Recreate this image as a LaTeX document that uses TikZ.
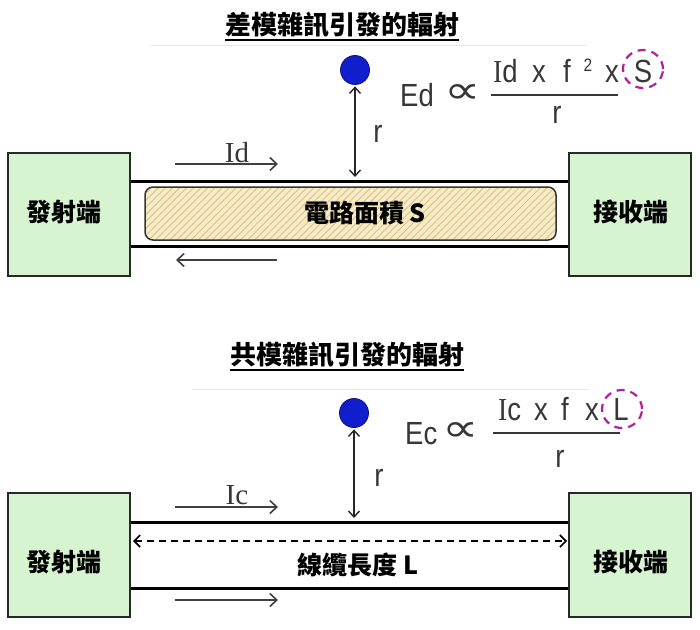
\documentclass[tikz,border=0pt]{standalone}
\usepackage{fontspec}
\setmainfont{Liberation Sans}
\newfontfamily\cjk{Noto Sans CJK TC}
\newfontfamily\serifI{Liberation Serif}
\newfontfamily\djv{DejaVu Sans}
\usetikzlibrary{arrows.meta,patterns.meta,shapes.geometric,calc}
\definecolor{boxgreen}{RGB}{214,244,208}
\definecolor{boxedge}{RGB}{40,40,40}
\definecolor{hatchbg}{RGB}{247,236,200}
\definecolor{hatchln}{RGB}{222,196,140}
\definecolor{dotblue}{RGB}{16,30,205}
\definecolor{dashmag}{RGB}{176,32,160}
\definecolor{formgray}{RGB}{55,55,55}
\definecolor{faint}{RGB}{232,232,232}
\newcommand{\cnd}[1]{\scalebox{0.86}[1]{#1}}
\begin{document}
\begin{tikzpicture}[x=1pt,y=-1pt,
  greenbox/.style={draw=boxedge,line width=2pt,fill=boxgreen,inner sep=0pt},
  boxlabel/.style={font=\cjk\bfseries\fontsize{25}{28}\selectfont,inner sep=0pt},
  titletext/.style={font=\cjk\bfseries\fontsize{26}{30}\selectfont,inner sep=0pt},
  wireline/.style={line width=3pt,black},
  curarrow/.style={line width=2pt,draw=black!75,-{Straight Barb[length=7pt,width=13pt,line width=1.6pt]}},
  rarrow/.style={line width=1.5pt,draw=black!85,{Straight Barb[length=6pt,width=11pt,line width=1.4pt]}-{Straight Barb[length=6pt,width=11pt,line width=1.4pt]}},
  formtext/.style={font=\fontsize{32}{38}\selectfont,text=formgray,inner sep=0pt},
  propsign/.style={font=\djv\fontsize{30}{36}\selectfont,text=formgray,inner sep=0pt},
  curlabel/.style={font=\serifI\fontsize{29}{34}\selectfont,text=formgray,inner sep=0pt},
  fracline/.style={line width=2pt,draw=formgray},
  magcircle/.style={ellipse,draw=dashmag,line width=2.2pt,dash pattern=on 8pt off 6pt,minimum width=40pt,minimum height=38pt,inner sep=0pt},
  bluedot/.style={circle,fill=dotblue,draw=dotblue!60!black,line width=0.8pt,minimum size=29pt,inner sep=0pt},
  faintline/.style={line width=1pt,draw=faint}
]
\useasboundingbox (0,0) rectangle (700,629);
\fill[white] (0,0) rectangle (700,629);

% ================= TOP: differential mode =================
\node[titletext] (t1) at (342,25) {差模雜訊引發的輻射};
\draw[line width=2pt] ([yshift=-2pt]t1.south west) -- ([yshift=-2pt]t1.south east);
\coordinate (fa1) at (150,45); \coordinate (fb1) at (587,45);
\draw[faintline] (fa1) -- (fb1);

\node[greenbox,minimum width=122pt,minimum height=123pt] (tx1) at (69,214.5) {};
\node[boxlabel] (tx1l) at (64,212) {發射端};
\node[greenbox,minimum width=122pt,minimum height=123pt] (rx1) at (630,214.5) {};
\node[boxlabel] (rx1l) at (631,212) {接收端};

\coordinate (w1a) at (131,181); \coordinate (w1b) at (568,181);
\coordinate (w2a) at (131,246); \coordinate (w2b) at (568,246);
\draw[wireline] (w1a) -- (w1b);
\draw[wireline] (w2a) -- (w2b);

\node[rounded corners=8pt,draw=black!80,line width=1.5pt,
  preaction={fill=hatchbg},
  pattern={Lines[angle=45,distance=5pt,line width=1pt]},pattern color=hatchln,
  minimum width=411pt,minimum height=53pt,inner sep=0pt] (area) at (350.5,213.5) {};
\node[boxlabel] (areal) at (365,213) {電路面積 S};

\coordinate (i1a) at (175,164); \coordinate (i1b) at (278,164);
\draw[curarrow] (i1a) -- (i1b);
\node[curlabel,anchor=base] (id1) at (237,162) {Id};
\coordinate (i2a) at (277,260); \coordinate (i2b) at (176,260);
\draw[curarrow] (i2a) -- (i2b);

\node[bluedot] (dot1) at (355,70) {};
\coordinate (r1b) at (355,177);
\draw[rarrow] ([yshift=-1.5pt]dot1.south) -- (r1b);
\node[formtext,anchor=base] (r1) at (378,142) {\cnd{r}};

\node[formtext,anchor=base west] (ed) at (400,106) {\cnd{Ed}};
\node[propsign,anchor=center] (prop1) at (463,94) {\scalebox{1.7}[1.3]{∝}};
\coordinate (fl1a) at (491,95); \coordinate (fl1b) at (618,95);
\draw[fracline] (fl1a) -- (fl1b);
\node[formtext,anchor=base west] (n1a) at (493,82) {\cnd{{\serifI I}d}};
\node[formtext,anchor=base] (n1b) at (539,82) {\cnd{x}};
\node[formtext,anchor=base] (n1c) at (567,82) {\cnd{f}};
\node[formtext,anchor=base,font=\fontsize{18}{20}\selectfont] (n1d) at (588,71) {\cnd{2}};
\node[formtext,anchor=base] (n1e) at (612,82) {\cnd{x}};
\node[formtext,anchor=base] (n1f) at (643,82) {\cnd{S}};
\node[magcircle] (c1) at (643,69) {};
\node[formtext,anchor=base] (d1) at (557,123) {\cnd{r}};

% ================= BOTTOM: common mode =================
\node[titletext] (t2) at (347,355) {共模雜訊引發的輻射};
\draw[line width=2pt] ([yshift=-2pt]t2.south west) -- ([yshift=-2pt]t2.south east);
\coordinate (fa2) at (192,389); \coordinate (fb2) at (589,389);
\draw[faintline] (fa2) -- (fb2);

\node[greenbox,minimum width=122pt,minimum height=124pt] (tx2) at (69,555) {};
\node[boxlabel] (tx2l) at (64,562) {發射端};
\node[greenbox,minimum width=122pt,minimum height=124pt] (rx2) at (630,555) {};
\node[boxlabel] (rx2l) at (631,562) {接收端};

\coordinate (w3a) at (131,522); \coordinate (w3b) at (568,522);
\coordinate (w4a) at (131,588); \coordinate (w4b) at (568,588);
\draw[wireline] (w3a) -- (w3b);
\draw[wireline] (w4a) -- (w4b);

\coordinate (la) at (133,541); \coordinate (lb) at (567,541);
\draw[line width=2pt,dash pattern=on 7pt off 5pt,
  {Straight Barb[length=6pt,width=12pt,line width=1.6pt]}-{Straight Barb[length=6pt,width=12pt,line width=1.6pt]}] (la) -- (lb);
\node[boxlabel] (lenl) at (358,565) {線纜長度 L};

\coordinate (i3a) at (175,507); \coordinate (i3b) at (278,507);
\draw[curarrow] (i3a) -- (i3b);
\node[curlabel,anchor=base] (ic1) at (237,504) {Ic};
\coordinate (i4a) at (175,600); \coordinate (i4b) at (278,600);
\draw[curarrow] (i4a) -- (i4b);

\node[bluedot] (dot2) at (354,413) {};
\coordinate (r2b) at (354,518);
\draw[rarrow] ([yshift=-1.5pt]dot2.south) -- (r2b);
\node[formtext,anchor=base] (r2) at (379,486) {\cnd{r}};

\node[formtext,anchor=base west] (ec) at (405,444) {\cnd{Ec}};
\node[propsign,anchor=center] (prop2) at (461,432) {\scalebox{1.7}[1.3]{∝}};
\coordinate (fl2a) at (493,433); \coordinate (fl2b) at (620,433);
\draw[fracline] (fl2a) -- (fl2b);
\node[formtext,anchor=base west] (n2a) at (498,420) {\cnd{{\serifI I}c}};
\node[formtext,anchor=base] (n2b) at (541,420) {\cnd{x}};
\node[formtext,anchor=base] (n2c) at (565,420) {\cnd{f}};
\node[formtext,anchor=base] (n2d) at (592,420) {\cnd{x}};
\node[formtext,anchor=base] (n2e) at (621,420) {\cnd{L}};
\node[magcircle] (c2) at (622,409) {};
\node[formtext,anchor=base] (d2) at (560,467) {\cnd{r}};
\end{tikzpicture}
\end{document}
